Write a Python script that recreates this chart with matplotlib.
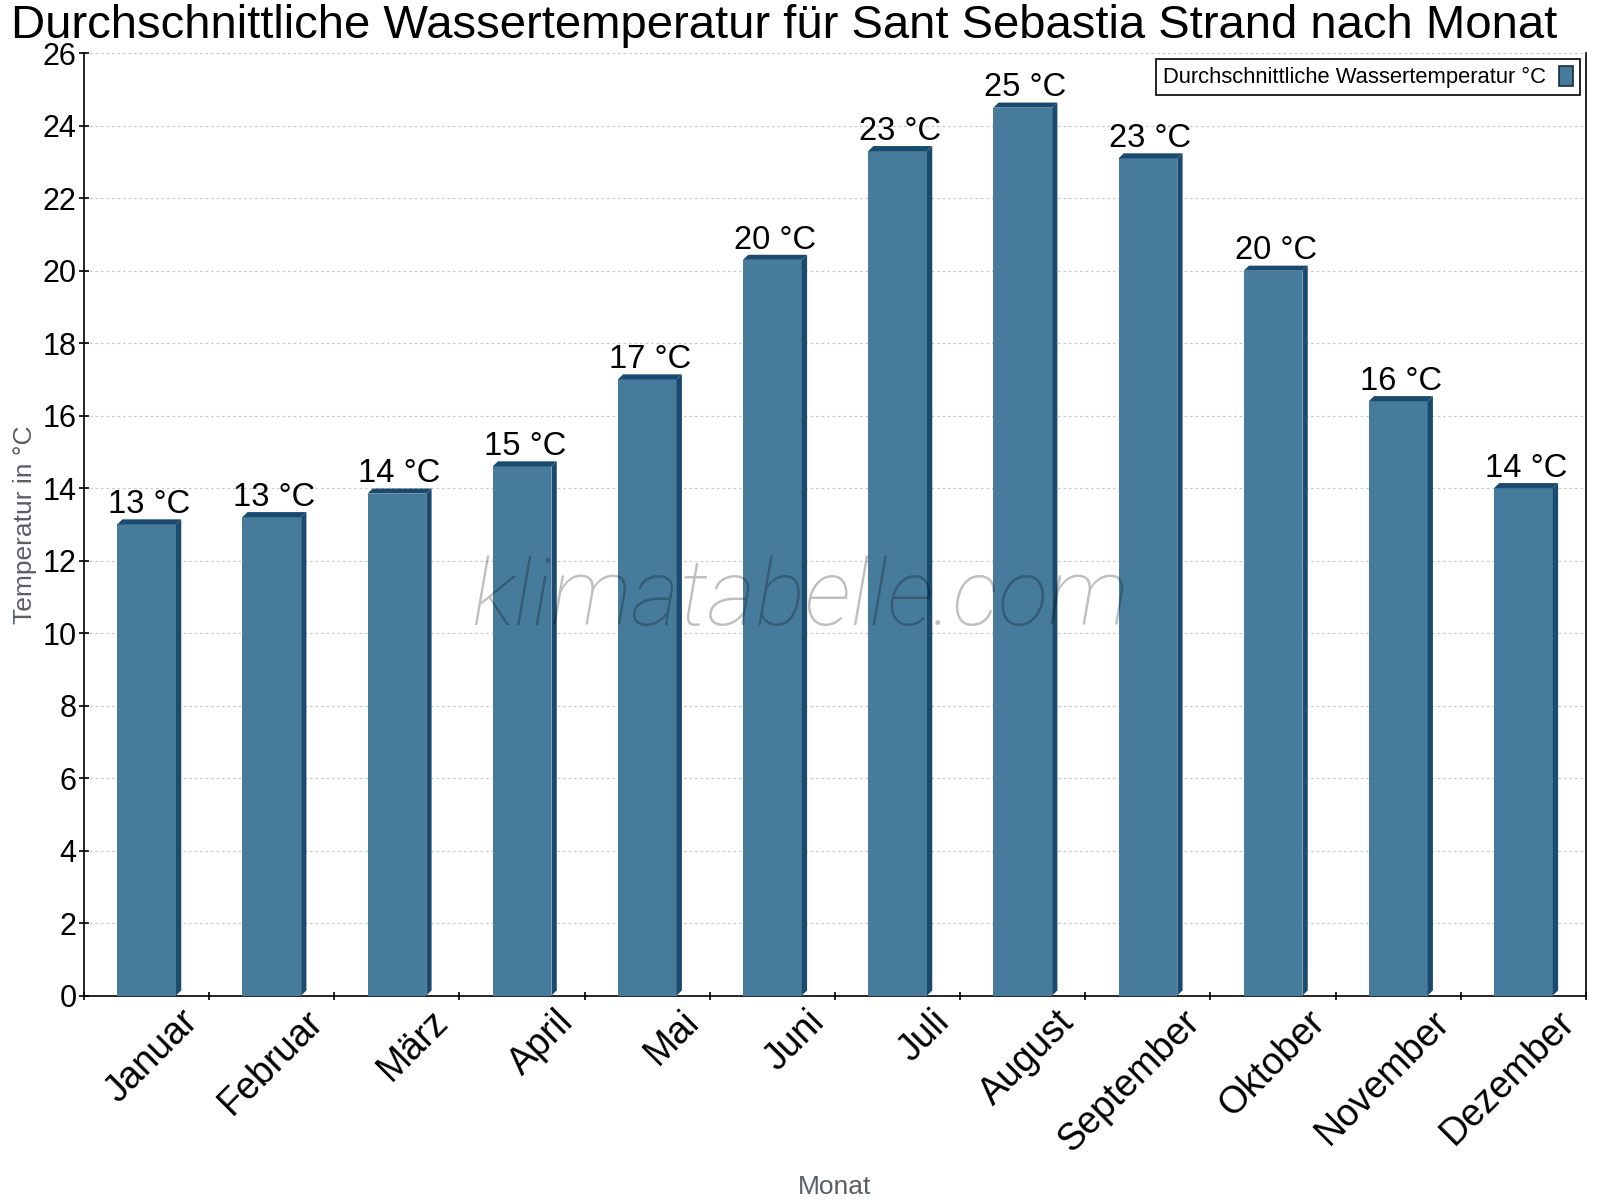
import matplotlib
matplotlib.use('Agg')
import matplotlib.pyplot as plt
import matplotlib.transforms as mtransforms
from matplotlib.patches import Polygon, Patch

plt.rcParams['font.family'] = ['Liberation Sans', 'DejaVu Sans']

months = ['Januar', 'Februar', 'März', 'April', 'Mai', 'Juni', 'Juli',
          'August', 'September', 'Oktober', 'November', 'Dezember']
water_temp = [13.0, 13.2, 13.85, 14.6, 17.0, 20.3, 23.3, 24.5, 23.1, 20.0, 16.4, 14.0]
temp_labels = ['13 °C', '13 °C', '14 °C', '15 °C', '17 °C', '20 °C',
               '23 °C', '25 °C', '23 °C', '20 °C', '16 °C', '14 °C']

front = '#467b9c'
dark = '#1a4a6d'
gray = '#5a5f66'

fig = plt.figure(figsize=(16, 12), dpi=100)
ax = fig.add_axes([0.0525, 0.1704, 0.93875, 0.7852])

x = list(range(len(months)))
w = 0.47
dx = 0.042   # depth in category units (~5 px)
dy = 0.14    # depth in degrees (~5 px)

ax.bar(x, water_temp, width=w, color=front, zorder=3)
for xi, v, lab in zip(x, water_temp, temp_labels):
    r = xi + w / 2
    l = xi - w / 2
    side = Polygon([(r, 0), (r + dx, dy), (r + dx, v + dy), (r, v)],
                   closed=True, facecolor=dark, edgecolor='none', zorder=3)
    top = Polygon([(l, v), (l + dx, v + dy), (r + dx, v + dy), (r, v)],
                  closed=True, facecolor=dark, edgecolor='none', zorder=3)
    ax.add_patch(side)
    ax.add_patch(top)
    ax.annotate(lab, (xi + dx / 2, v + dy), xytext=(0, 4.5), textcoords='offset points',
                ha='center', va='baseline', fontsize=23.5, color='black', zorder=5)

ax.set_xlim(-0.5, len(months) - 0.5)
ax.set_ylim(0, 26)
ax.set_yticks(range(0, 27, 2))
ax.yaxis.grid(True, color='#cbcbcb', linewidth=0.9, linestyle=(0, (2.2, 2.2)), zorder=0)
ax.set_axisbelow(True)

ax.set_xticks(x)
ax.set_xticklabels(months, rotation=45, ha='right', va='center',
                   rotation_mode='anchor', fontsize=27)
ax.set_xticks([i - 0.5 for i in range(len(months) + 1)], minor=True)
ax.tick_params(axis='x', which='major', length=0, pad=15)
ax.tick_params(axis='x', which='minor', direction='inout', length=6, width=1.2)
ax.tick_params(axis='y', direction='inout', length=6.5, width=1.2, labelsize=22, pad=2)
offset = mtransforms.ScaledTranslation(46 / 100, 0, fig.dpi_scale_trans)
for t in ax.get_xticklabels():
    t.set_transform(t.get_transform() + offset)

ax.spines['top'].set_visible(False)
for s in ['left', 'bottom', 'right']:
    ax.spines[s].set_linewidth(1.2)
    ax.spines[s].set_color('black')

ax.set_ylabel('Temperatur in °C', fontsize=19, color=gray, labelpad=4)
ax.set_xlabel('Monat', fontsize=19, color=gray, labelpad=4)
ax.xaxis.set_label_coords(0.5, -0.19)

fig.text(0.49, 1 - 38 / 1200, 'Durchschnittliche Wassertemperatur für Sant Sebastia Strand nach Monat',
         ha='center', va='baseline', fontsize=34)

ax.text(0.477, 0.42, 'klimatabelle.com', transform=ax.transAxes, ha='center', va='center',
        fontsize=67, style='italic', fontweight='light', color='black', alpha=0.25, zorder=6,
        family=['Roboto', 'Liberation Sans'])

handle = Patch(facecolor=front, edgecolor='#1a2a3a', linewidth=1.2)
leg = ax.legend([handle], ['Durchschnittliche Wassertemperatur °C'], loc='upper right',
                bbox_to_anchor=(0.996, 0.9935), borderaxespad=0, fontsize=15.8, markerfirst=False,
                handlelength=0.65, handleheight=1.0, handletextpad=0.6,
                fancybox=False, framealpha=1, borderpad=0.3)
leg.get_frame().set_edgecolor('black')
leg.get_frame().set_linewidth(1.2)

fig.savefig('out.png', dpi=100)
